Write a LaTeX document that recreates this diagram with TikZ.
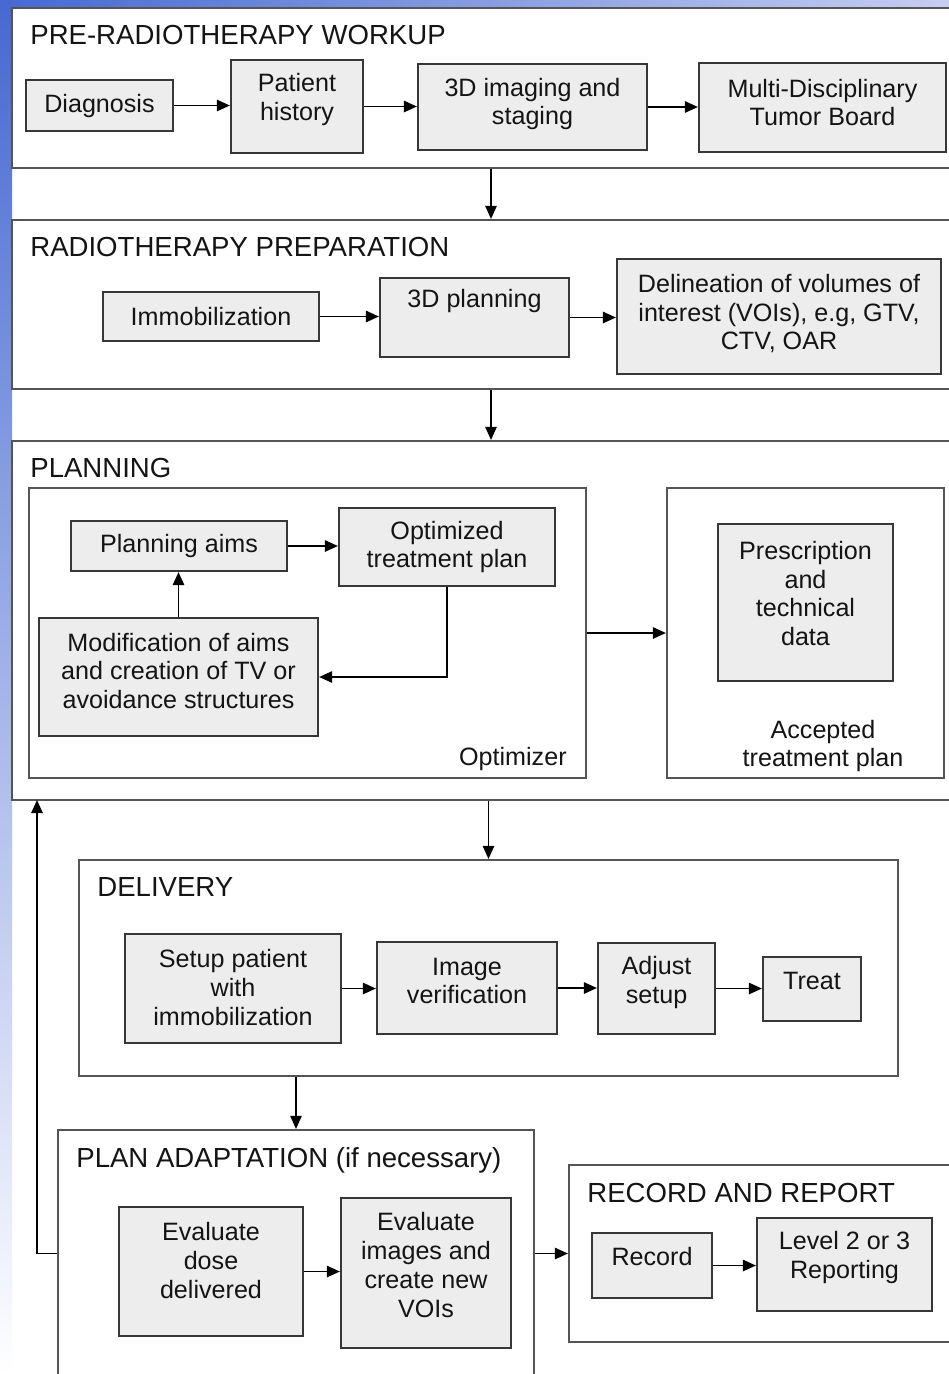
\documentclass[tikz,border=0pt]{standalone}
\usepackage{fontspec}
\setmainfont{Liberation Sans}
\usetikzlibrary{arrows.meta}
\definecolor{blueA}{RGB}{70,105,210}
\definecolor{blueB}{RGB}{185,195,235}
\definecolor{blueC}{RGB}{198,206,240}
\definecolor{boxfill}{RGB}{237,237,237}
\definecolor{boxline}{RGB}{55,55,55}
\definecolor{frameline}{RGB}{85,85,85}
\definecolor{ink}{RGB}{20,20,20}
\tikzset{
  box/.style={draw=boxline, line width=1.2pt, fill=boxfill, inner sep=0pt},
  frame/.style={draw=frameline, line width=1.2pt, fill=none, inner sep=0pt},
  txt/.style={align=center, text=ink, inner sep=0pt, font=\fontsize{14.3}{16.4}\selectfont},
  title/.style={anchor=base west, text=ink, inner sep=0pt, font=\fontsize{15.7}{18}\selectfont},
  arr/.style={draw=black, line width=1pt, -{Triangle[length=7.5pt,width=6.5pt]}}
}
% \pbox[text offset]{name}{x1}{y1}{x2}{y2}{text}
\newcommand{\pbox}[7][0]{%
  \node[box, minimum width={(#5-#3)*0.02cm}, minimum height={(#6-#4)*0.02cm}] (#2) at ({(#3+#5)/2},{(#4+#6)/2}) {};
  \node[txt] (#2-t) at ([yshift={-(#1)*0.02cm}]#2.center) {#7};}
\newcommand{\pframe}[5]{%
  \node[frame, minimum width={(#4-#2)*0.02cm}, minimum height={(#5-#3)*0.02cm}] (#1) at ({(#2+#4)/2},{(#3+#5)/2}) {};}
\begin{document}
\begin{tikzpicture}[x=0.02cm, y=-0.02cm]
\useasboundingbox (0,0) rectangle (949,1374);
\clip (0,0) rectangle (949,1374);
\fill[white] (0,0) rectangle (949,1374);
\shade[left color=blueA, right color=blueC] (0,0) rectangle (949,8);
\shade[top color=blueA, middle color=blueB, bottom color=white] (0,0) rectangle (12,1374);

% section frames
\pframe{s1}{12}{8}{970}{168}
\pframe{s2}{12}{220}{970}{389}
\pframe{s3}{12}{441}{970}{800}
\pframe{optz}{29}{488}{586}{778}
\pframe{accp}{667}{488}{944}{778}
\pframe{deliv}{79}{860}{898}{1076}
\pframe{adapt}{58}{1130}{534}{1400}
\pframe{recsec}{569}{1165}{970}{1342}

% titles
\node[title] (t1) at (30,44) {PRE-RADIOTHERAPY WORKUP};
\node[title] (t2) at (30,256) {RADIOTHERAPY PREPARATION};
\node[title] (t3) at (30,477) {PLANNING};
\node[title] (t4) at (97,896) {DELIVERY};
\node[title] (t5) at (76,1167) {PLAN ADAPTATION (if necessary)};
\node[title] (t6) at (587,1202) {RECORD AND REPORT};
\node[txt, anchor=base east] (toptz) at (567,765) {Optimizer};
\node[txt] (taccp) at (823,746) {Accepted\\treatment plan};

% boxes
\pbox{diag}{26}{80}{173}{131}{Diagnosis}
\pbox[-7]{hist}{231}{60}{363}{153}{Patient\\history}
\pbox[-3]{img3d}{418}{64}{647}{150}{3D imaging and\\staging}
\pbox[-5]{mdtb}{699}{63}{946}{152}{Multi-Disciplinary\\Tumor Board}
\pbox{immo}{103}{292}{319}{341}{Immobilization}
\pbox[-17]{plan3d}{380}{278}{569}{357}{3D planning}
\pbox[-3]{delin}{617}{259}{941}{374}{Delineation of volumes of\\interest (VOIs), e.g, GTV,\\CTV, OAR}
\pbox{aims}{71}{521}{287}{571}{Planning aims}
\pbox{opt}{339}{508}{555}{586}{Optimized\\treatment plan}
\pbox[-6]{mod}{39}{618}{318}{736}{Modification of aims\\and creation of TV or\\avoidance structures}
\pbox[-9]{presc}{718}{524}{893}{681}{Prescription\\and\\technical\\data}
\pbox[-1]{setup}{125}{934}{341}{1043}{Setup patient\\with\\immobilization}
\pbox[-7]{imgv}{377}{942}{557}{1034}{Image\\verification}
\pbox[-6]{adj}{598}{943}{715}{1034}{Adjust\\setup}
\pbox[-8]{treat}{763}{957}{861}{1021}{Treat}
\pbox[-11]{dose}{119}{1207}{303}{1336}{Evaluate\\dose\\delivered}
\pbox[-8]{evimg}{341}{1198}{511}{1348}{Evaluate\\images and\\create new\\VOIs}
\pbox[-9]{rec}{592}{1233}{712}{1298}{Record}
\pbox[-7]{lvl}{757}{1218}{932}{1311}{Level 2 or 3\\Reporting}

\coordinate (fb) at (37,800);

% connectors
\draw[arr] (diag.east) -- (diag.east -| hist.west);
\draw[arr] (hist.east) -- (hist.east -| img3d.west);
\draw[arr] (img3d.east) -- (img3d.east -| mdtb.west);
\draw[arr] (s1.south) -- (s2.north);
\draw[arr] (immo.east) -- (immo.east -| plan3d.west);
\draw[arr] (plan3d.east) -- (plan3d.east -| delin.west);
\draw[arr] (s2.south) -- (s3.north);
\draw[arr] (aims.east) -- (aims.east -| opt.west);
\draw[arr] (mod.north) -- (mod.north |- aims.south);
\draw[arr] (opt.south) |- (mod.east);
\draw[arr] (optz.east) -- (accp.west);
\draw[arr] (deliv.north |- s3.south) -- (deliv.north);
\draw[arr] (setup.east) -- (setup.east -| imgv.west);
\draw[arr] (imgv.east) -- (imgv.east -| adj.west);
\draw[arr] (adj.east) -- (adj.east -| treat.west);
\draw[arr] (adapt.north |- deliv.south) -- (adapt.north);
\draw[arr] (dose.east) -- (dose.east -| evimg.west);
\draw[arr] (adapt.east |- recsec.west) -- (recsec.west);
\draw[arr] (rec.east) -- (rec.east -| lvl.west);
\draw[arr] (adapt.west |- recsec.west) -| (fb);
\end{tikzpicture}
\end{document}
